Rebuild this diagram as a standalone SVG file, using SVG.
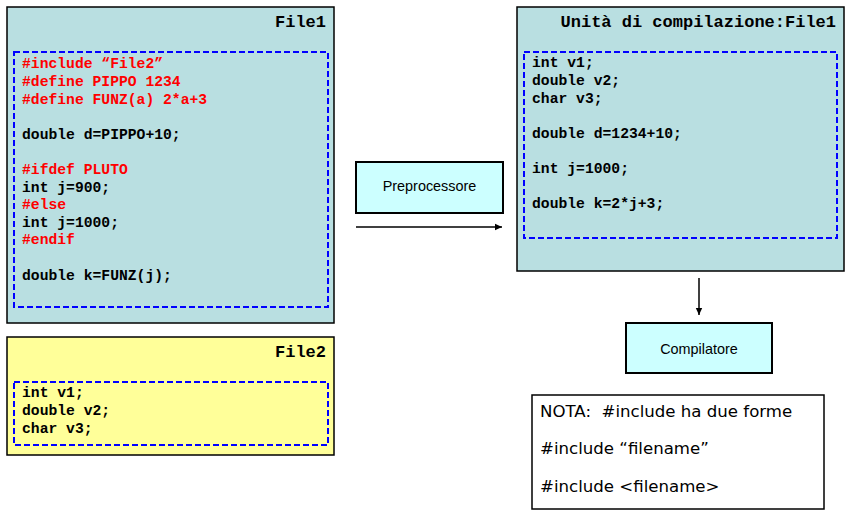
<svg xmlns="http://www.w3.org/2000/svg" width="849" height="512" viewBox="0 0 849 512">
<style>
.teal{fill:#B9DFE1;stroke:#000;stroke-width:1.5}
.yel{fill:#FFFF99;stroke:#000;stroke-width:1.5}
.proc{fill:#CCFFFF;stroke:#000;stroke-width:2}
.dash{fill:none;stroke:#0000FF;stroke-width:2;stroke-dasharray:6 3}
.title{font-family:"Liberation Mono","Courier New",monospace;font-weight:bold;font-size:17px;fill:#000;text-anchor:end}
.code{font-family:"Liberation Mono","Courier New",monospace;font-weight:bold;font-size:14.7px;fill:#000}
.pp{fill:#FF0000}
.lbl{font-family:"Liberation Sans",Arial,sans-serif;font-size:14.4px;fill:#000;text-anchor:middle}
.note{font-family:"DejaVu Sans",Verdana,sans-serif;font-size:16.6px;fill:#000;white-space:pre}
.conn{stroke:#000;stroke-width:1.5;fill:none}
</style>
<defs>
<marker id="arr" markerWidth="8" markerHeight="8" refX="7" refY="4" orient="auto" markerUnits="userSpaceOnUse">
<path d="M0,0.8 L7,4 L0,7.2 Z" fill="#000"/>
</marker>
</defs>
<g id="file1">
<rect class="teal" x="7" y="7" width="327" height="316"/>
<rect class="dash" x="14" y="52" width="314" height="255"/>
<text class="title" x="326" y="27">File1</text>
<text class="code" x="22"><tspan class="pp" x="22" y="68">#include “File2”</tspan><tspan class="pp" x="22" y="86">#define PIPPO 1234</tspan><tspan class="pp" x="22" y="104">#define FUNZ(a) 2*a+3</tspan><tspan x="22" y="139">double d=PIPPO+10;</tspan><tspan class="pp" x="22" y="174">#ifdef PLUTO</tspan><tspan x="22" y="192">int j=900;</tspan><tspan class="pp" x="22" y="209">#else</tspan><tspan x="22" y="227">int j=1000;</tspan><tspan class="pp" x="22" y="244">#endif</tspan><tspan x="22" y="280">double k=FUNZ(j);</tspan></text>
</g>
<g id="file2">
<rect class="yel" x="7" y="337" width="327" height="118"/>
<rect class="dash" x="14" y="382" width="314" height="63"/>
<text class="title" x="326" y="357">File2</text>
<text class="code"><tspan x="22" y="397">int v1;</tspan><tspan x="22" y="415">double v2;</tspan><tspan x="22" y="433">char v3;</tspan></text>
</g>
<g id="unit">
<rect class="teal" x="517" y="7" width="327" height="264"/>
<rect class="dash" x="524" y="52" width="313" height="186"/>
<text class="title" x="836" y="27">Unità di compilazione:File1</text>
<text class="code"><tspan x="532" y="67">int v1;</tspan><tspan x="532" y="85">double v2;</tspan><tspan x="532" y="103">char v3;</tspan><tspan x="532" y="138">double d=1234+10;</tspan><tspan x="532" y="173">int j=1000;</tspan><tspan x="532" y="208">double k=2*j+3;</tspan></text>
</g>
<g id="preprocessore">
<rect class="proc" x="356" y="162" width="147" height="51"/>
<text class="lbl" x="429.5" y="191">Preprocessore</text>
</g>
<g id="compilatore">
<rect class="proc" x="626" y="323" width="146" height="50"/>
<text class="lbl" x="699" y="354">Compilatore</text>
</g>
<g id="nota">
<rect x="532" y="395" width="292" height="114" fill="#fff" stroke="#000" stroke-width="1.5"/>
<text class="note" xml:space="preserve"><tspan x="540" y="417">NOTA:  #include ha due forme</tspan><tspan x="540" y="454">#include “filename”</tspan><tspan x="540" y="492">#include &lt;filename&gt;</tspan></text>
</g>
<g id="connectors">
<line class="conn" x1="356" y1="227" x2="502" y2="227" marker-end="url(#arr)"/>
<line class="conn" x1="699" y1="278" x2="699" y2="315" marker-end="url(#arr)"/>
</g>
</svg>
